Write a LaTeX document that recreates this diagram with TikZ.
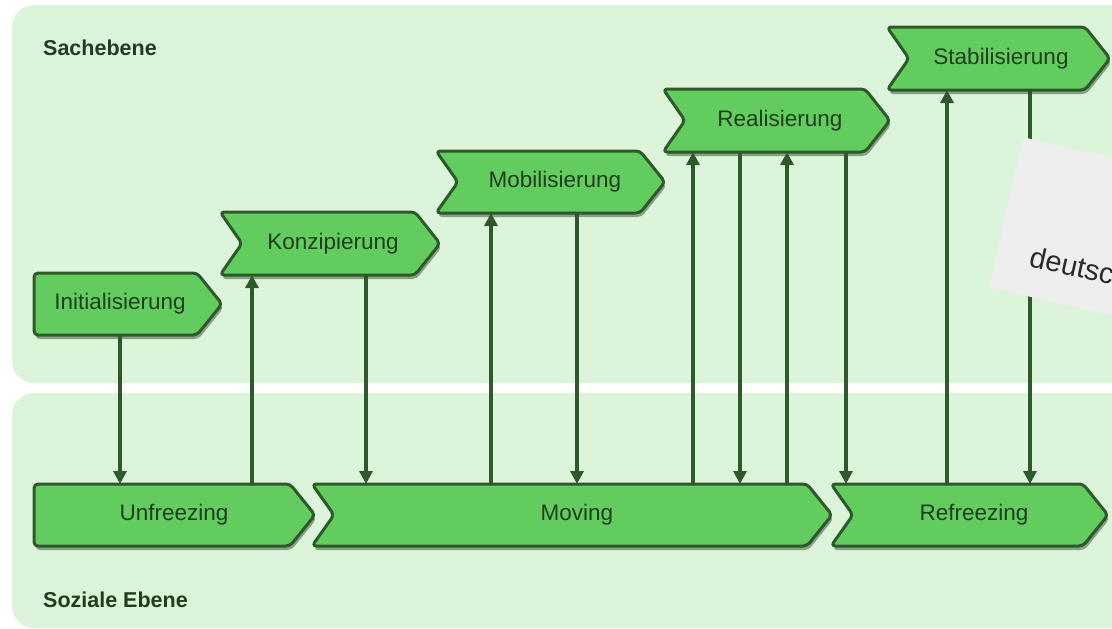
\documentclass[tikz,border=0pt]{standalone}
\usepackage{fontspec}
\setmainfont{Liberation Sans}
\usetikzlibrary{arrows.meta,shadows}

\definecolor{panel}{HTML}{DCF5DA}
\definecolor{boxgreen}{HTML}{62CC5E}
\definecolor{boxline}{HTML}{2E5A2B}
\definecolor{boxshadow}{HTML}{86A284}
\definecolor{txt}{HTML}{1E3E1C}
\definecolor{note}{HTML}{EEEEEE}
\definecolor{notetext}{HTML}{2A2A2A}

\tikzset{
  panelbox/.style={fill=panel, rounded corners=22pt},
  stagebox/.style={fill=boxgreen, draw=boxline, line width=3pt,
    rounded corners=4pt, line join=round,
    drop shadow={shadow xshift=1.5pt, shadow yshift=-4pt, fill=boxshadow, opacity=1}},
  stagetext/.style={text=txt, font=\fontsize{22.5}{26}\selectfont,
    inner sep=0pt, outer sep=0pt},
  levellabel/.style={text=txt, font=\fontsize{21.5}{26}\selectfont\bfseries,
    anchor=base west, inner sep=0pt},
  flow/.style={draw=boxline, line width=3.4pt,
    -{Triangle[width=13pt,length=13pt]}},
}

% stage chevron: name, left, right, top, bottom, notch depth, text x, text
\newcommand\stage[8]{%
  \draw[stagebox] (#2,#4) -- ({#3-25},#4) -- (#3,{(#4+#5)/2})
    -- ({#3-25},#5) -- (#2,#5) -- ({#2+#6},{(#4+#5)/2}) -- cycle;
  \node[stagetext, minimum height={#5-#4}] (#1) at (#7,{(#4+#5)/2}) {#8};
}

\begin{document}
\begin{tikzpicture}[x=1pt,y=-1pt]
  \useasboundingbox (0,0) rectangle (1112,629);
  \clip (0,0) rectangle (1112,629);

  % the two levels
  \fill[panelbox] (12,5) rectangle (1150,383);
  \fill[panelbox] (12,393) rectangle (1150,628);
  \node[levellabel] (sach) at (43,55) {Sachebene};
  \node[levellabel] (sozial) at (43,607) {Soziale Ebene};

  % task level
  \stage{init}{34}{222}{273}{335}{0}{120}{Initialisierung}
  \stage{konz}{220}{440}{212}{275}{22}{333}{Konzipierung}
  \stage{mobi}{436}{665}{151}{213}{22}{555}{Mobilisierung}
  \stage{real}{663}{890}{89}{152}{22}{780}{Realisierung}
  \stage{stab}{887}{1110}{27}{90}{22}{1001}{Stabilisierung}

  % social level
  \stage{unf}{34}{315}{484}{546}{0}{174}{Unfreezing}
  \stage{mov}{312}{832}{484}{546}{22}{577}{Moving}
  \stage{refr}{831}{1108}{484}{546}{22}{974}{Refreezing}

  % hand-overs between the levels
  \draw[flow] (init.south -| 120,0) -- (unf.north -| 120,0);
  \draw[flow] (unf.north -| 252,0) -- (konz.south -| 252,0);
  \draw[flow] (konz.south -| 366,0) -- (mov.north -| 366,0);
  \draw[flow] (mov.north -| 491,0) -- (mobi.south -| 491,0);
  \draw[flow] (mobi.south -| 577,0) -- (mov.north -| 577,0);
  \draw[flow] (mov.north -| 693,0) -- (real.south -| 693,0);
  \draw[flow] (real.south -| 740,0) -- (mov.north -| 740,0);
  \draw[flow] (mov.north -| 787,0) -- (real.south -| 787,0);
  \draw[flow] (real.south -| 846,0) -- (refr.north -| 846,0);
  \draw[flow] (refr.north -| 947,0) -- (stab.south -| 947,0);
  \draw[flow] (stab.south -| 1030,0) -- (refr.north -| 1030,0);

  % tilted note
  \node[fill=note, rotate=-12.8, anchor=north west, minimum width=320pt,
    minimum height=154pt, inner sep=0pt] (notebox) at (1023,137) {};
  \node[rotate=-12.8, anchor=base west, inner sep=0pt, text=notetext,
    font=\fontsize{29}{32}\selectfont] (notetxt) at (1028,266) {deutsch};
\end{tikzpicture}
\end{document}
